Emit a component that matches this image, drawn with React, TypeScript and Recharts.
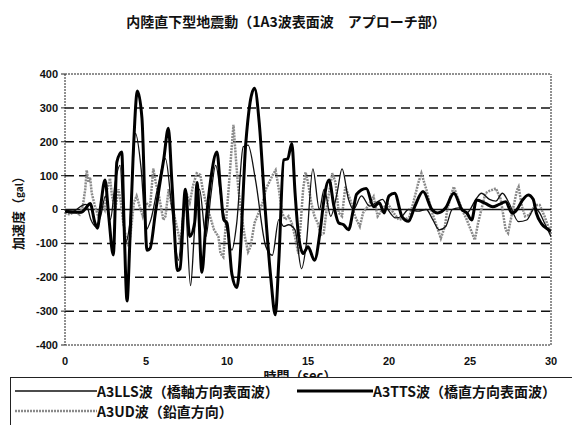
import React from 'react';
import { LineChart, Line, XAxis, YAxis, ReferenceLine } from 'recharts';

const timeTicks = [0, 5, 10, 15, 20, 25, 30];
const accTicks = [-400, -300, -200, -100, 0, 100, 200, 300, 400];
const dashedGrid = [-300, -200, -100, 100, 200, 300];

// A3TTS (thick)
const ttsTime = [0, 0.5, 1.0, 1.3, 1.55, 1.85, 2.0, 2.2, 2.47, 2.7, 2.98, 3.2, 3.5, 3.65, 3.83, 4.0, 4.2, 4.47, 4.75, 5.06, 5.25, 5.58, 5.8, 6.1, 6.38, 6.6, 6.95, 7.1, 7.43, 7.7, 8.0, 8.15, 8.45, 8.7, 9.0, 9.38, 9.6, 9.8, 10.0, 10.3, 10.6, 10.8, 11.0, 11.15, 11.7, 12.0, 12.3, 12.7, 12.98, 13.2, 13.5, 13.75, 14.0, 14.2, 14.4, 14.7, 15.0, 15.4, 15.76, 15.97, 16.3, 16.6, 16.9, 17.2, 17.5, 17.8, 18.0, 18.6, 19.05, 19.4, 19.7, 20.0, 20.35, 20.8, 21.2, 21.6, 22.1, 22.65, 23.0, 23.5, 24.0, 24.5, 24.8, 25.1, 25.4, 25.95, 26.4, 26.8, 27.2, 27.6, 27.9, 28.2, 28.6, 28.9, 29.1, 29.4, 29.85, 30];
const ttsAcc = [-5, -8, -8, 5, 18, -40, -55, 10, 87, -20, -134, 140, 170, -50, -270, -100, 150, 350, 270, -120, -115, -10, 60, 150, 240, 80, -180, -175, 60, -80, -40, 80, -185, -40, 90, 170, 60, -30, -40, -190, -230, -150, 50, 190, 358, 250, 40, -200, -311, -150, 146, 150, 195, 50, -70, -130, -110, -150, -60, 23, 87, 10, -40, -45, -60, 0, 45, 62, 8, 20, -10, 40, 48, -21, -35, 10, 53, 0, -10, 5, 48, 0, -10, -31, 28, 18, 8, 15, 23, -11, 0, 25, 43, 30, -11, -41, -60, -65];

// A3LLS (thin)
const llsTime = [0, 0.5, 1.0, 1.3, 1.6, 1.9, 2.2, 2.5, 2.8, 3.1, 3.4, 3.7, 4.0, 4.35, 4.7, 5.0, 5.3, 5.7, 6.2, 6.6, 7.0, 7.4, 7.75, 8.0, 8.3, 8.7, 9.0, 9.3, 9.7, 10.0, 10.3, 10.6, 11.0, 11.3, 11.75, 12.4, 12.8, 13.2, 13.5, 13.8, 14.2, 14.6, 14.9, 15.3, 15.7, 16.0, 16.4, 16.8, 17.1, 17.5, 17.8, 18.3, 18.8, 19.2, 19.6, 20.0, 20.4, 20.8, 21.2, 21.8, 22.3, 22.7, 23.1, 23.5, 23.9, 24.3, 24.8, 25.4, 25.7, 26.2, 26.6, 27.0, 27.4, 28.0, 28.5, 29.0, 29.3, 29.6, 30];
const llsAcc = [0, -5, 10, 15, -30, -50, -20, 40, -30, 80, 130, -100, -40, 225, 120, -60, -30, 60, 150, 0, -150, 30, -225, -60, 60, -80, 40, 130, 10, -60, -120, -40, 185, 190, 90, -110, -135, -30, -50, -45, -60, -175, -100, 120, 0, 60, -20, 50, 120, 30, 0, 40, 10, 20, 30, -5, -25, -20, 0, -5, 0, -30, -60, -50, 0, 5, -10, 33, 48, 30, 25, 48, 20, -36, -31, 5, -10, -40, -80];

// A3UD (gray dotted)
const udTime = [0, 0.3, 0.6, 0.9, 1.1, 1.25, 1.34, 1.45, 1.55, 1.65, 1.85, 2.06, 2.25, 2.45, 2.6, 2.78, 2.9, 3.1, 3.3, 3.45, 3.6, 3.8, 3.95, 4.1, 4.25, 4.42, 4.6, 4.8, 5.0, 5.25, 5.45, 5.6, 5.8, 6.07, 6.2, 6.4, 6.55, 6.8, 6.95, 7.12, 7.3, 7.5, 7.7, 7.9, 8.13, 8.35, 8.5, 8.7, 8.95, 9.2, 9.47, 9.6, 9.77, 9.9, 10.1, 10.3, 10.4, 10.55, 10.7, 10.9, 11.1, 11.3, 11.45, 11.7, 11.95, 12.2, 12.4, 12.6, 12.8, 13.0, 13.2, 13.4, 13.6, 13.8, 14.0, 14.2, 14.4, 14.55, 14.7, 14.85, 15.0, 15.2, 15.4, 15.6, 15.8, 15.97, 16.2, 16.5, 16.7, 16.9, 17.1, 17.3, 17.6, 17.9, 18.2, 18.4, 18.7, 19.05, 19.3, 19.6, 19.9, 20.2, 20.6, 21.0, 21.2, 21.5, 21.8, 22.0, 22.3, 22.6, 22.95, 23.2, 23.45, 23.6, 23.8, 24.0, 24.2, 24.5, 24.8, 25.05, 25.3, 25.5, 25.95, 26.2, 26.6, 26.9, 27.2, 27.35, 27.6, 27.9, 28.0, 28.2, 28.4, 28.7, 29.0, 29.3, 29.6, 29.9, 30];
const udAcc = [-10, -15, -5, -15, 10, 60, 116, 80, 95, 48, 10, -21, 20, 0, 60, 92, 40, 0, 60, 20, -40, -90, -110, -50, 20, 40, 10, -20, 20, 8, 121, 80, 40, -31, -20, 60, 20, -30, -60, -100, -20, 48, 20, 70, 107, 102, 60, 20, -20, -60, -80, -130, -140, -60, 60, 190, 250, 150, 60, -20, -80, -125, -110, -40, -10, 20, 60, 80, 100, 116, 60, -10, -30, -20, -40, -80, -130, -40, 60, 110, 80, 20, -20, -40, -75, -70, 20, 107, 80, -10, -20, 67, 30, -20, -50, -10, 10, 38, -20, 0, 20, -5, -30, -25, -31, 20, 77, 107, 60, 0, -50, -85, -50, 0, 38, 67, 40, 0, -30, -60, -90, -40, 48, 55, 62, 30, -60, -70, -10, 57, 67, 10, -20, -15, 13, 13, -20, -60, -60];

const toPoints = (ts: number[], vs: number[]) => ts.map((t, i) => ({ t, v: vs[i] }));

const jp = "'Noto Sans CJK JP', 'Noto Sans', sans-serif";
const tickStyle = { fontSize: 11, fontWeight: 'bold' as const, fill: '#111', fontFamily: "'Liberation Sans', Arial, sans-serif" };

export default function App() {
  const tts = toPoints(ttsTime, ttsAcc);
  const lls = toPoints(llsTime, llsAcc);
  const ud = toPoints(udTime, udAcc);

  return (
    <div style={{ position: 'absolute', left: 0, top: 0, width: 572, height: 425, background: '#fff', overflow: 'hidden', fontFamily: jp, color: '#111' }}>
      <div style={{ position: 'absolute', top: 11, left: 0, width: 572, textAlign: 'center', fontSize: 14, fontWeight: 'bold' }}>
        内陸直下型地震動（1A3波表面波　アプローチ部）
      </div>

      <LineChart width={572} height={425} margin={{ top: 74, right: 21, bottom: 50, left: 0 }}>
        <XAxis
          dataKey="t"
          type="number"
          domain={[0, 30]}
          ticks={timeTicks}
          height={30}
          tickLine={false}
          tickMargin={6}
          axisLine={{ stroke: '#222', strokeDasharray: '2 1' }}
          tick={tickStyle}
          allowDataOverflow
        />
        <YAxis
          dataKey="v"
          type="number"
          domain={[-400, 400]}
          ticks={accTicks}
          width={65}
          tickSize={4}
          tickMargin={3}
          tickLine={{ stroke: '#222' }}
          axisLine={{ stroke: '#222', strokeDasharray: '2 1' }}
          tick={tickStyle}
          allowDataOverflow
        />
        {dashedGrid.map((g) => (
          <ReferenceLine key={g} y={g} stroke="#111" strokeWidth={1.5} strokeDasharray="9 5" />
        ))}
        <ReferenceLine y={400} stroke="#222" strokeDasharray="2 1" />
        <ReferenceLine x={30} stroke="#222" strokeDasharray="2 1" />
        <ReferenceLine y={0} stroke="#111" strokeWidth={1.3} />
        <Line data={ud} dataKey="v" type="linear" stroke="#8a8a8a" strokeWidth={2.5} strokeDasharray="2 1" dot={false} isAnimationActive={false} />
        <Line data={lls} dataKey="v" type="monotone" stroke="#111" strokeWidth={1.3} dot={false} isAnimationActive={false} />
        <Line data={tts} dataKey="v" type="monotone" stroke="#000" strokeWidth={3} dot={false} isAnimationActive={false} />
      </LineChart>

      <div style={{ position: 'absolute', left: -42, top: 202, width: 120, height: 16, lineHeight: '16px', textAlign: 'center', transform: 'rotate(-90deg)', fontSize: 13, fontWeight: 'bold' }}>
        加速度（<span style={{ fontSize: 10 }}>gal</span>）
      </div>

      <div style={{ position: 'absolute', left: 250, top: 368, width: 100, textAlign: 'center', fontSize: 13, fontWeight: 'bold', lineHeight: '16px' }}>
        時間（sec）
      </div>

      <div style={{ position: 'absolute', left: 10, top: 377, width: 580, height: 60, background: '#fff', borderTop: '1px solid #222', borderLeft: '1px solid #222', fontSize: 14, fontWeight: 'bold' }}>
        <div style={{ position: 'absolute', left: 4, top: 4, display: 'flex', alignItems: 'center', height: 18 }}>
          <svg width={82} height={10}><line x1={0} y1={5} x2={82} y2={5} stroke="#111" strokeWidth={1.3} /></svg>
          <span>A3LLS波（橋軸方向表面波）</span>
        </div>
        <div style={{ position: 'absolute', left: 286, top: 4, display: 'flex', alignItems: 'center', height: 18 }}>
          <svg width={76} height={10}><line x1={0} y1={5} x2={76} y2={5} stroke="#000" strokeWidth={3} /></svg>
          <span>A3TTS波（橋直方向表面波）</span>
        </div>
        <div style={{ position: 'absolute', left: 4, top: 24, display: 'flex', alignItems: 'center', height: 18 }}>
          <svg width={82} height={10}><line x1={0} y1={5} x2={82} y2={5} stroke="#8a8a8a" strokeWidth={2.5} strokeDasharray="2 1" /></svg>
          <span>A3UD波（鉛直方向）</span>
        </div>
      </div>
    </div>
  );
}
